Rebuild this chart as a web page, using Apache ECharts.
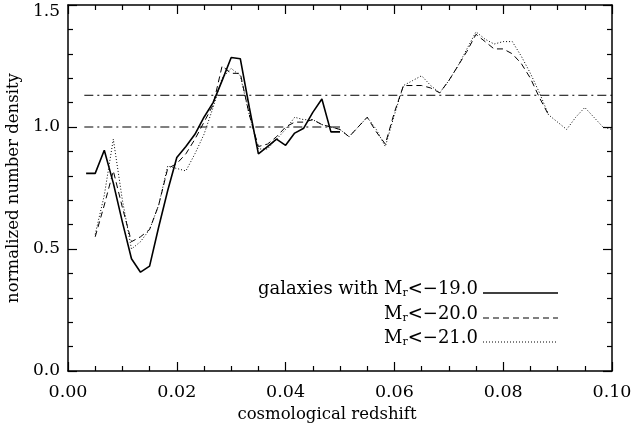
<!DOCTYPE html>
<html>
<head>
<meta charset="utf-8">
<script src="https://cdn.jsdelivr.net/npm/echarts@6/dist/echarts.min.js"></script>
<style>html,body{margin:0;padding:0;background:#fff;}#c{width:633px;height:427px;}</style>
</head>
<body>
<div id="c"></div>
<script>
// redshift bins (shared)
const redshift = [0.00333,0.005,0.00667,0.00833,0.01,0.01167,0.01333,0.015,0.01667,0.01833,
  0.02,0.02167,0.02333,0.025,0.02667,0.02833,0.03,0.03167,0.03333,0.035,
  0.03667,0.03833,0.04,0.04167,0.04333,0.045,0.04667,0.04833,0.05,0.05167,
  0.05333,0.055,0.05667,0.05833,0.06,0.06167,0.06333,0.065,0.06667,0.06833,
  0.07,0.07167,0.07333,0.075,0.07667,0.07833,0.08,0.08167,0.08333,0.085,
  0.08667,0.08833,0.09,0.09167,0.09333,0.095,0.09667,0.09833,0.1];
// M_r < -19.0 (solid), bins 0..28
const density19 = [0.81,0.81,0.905,0.77,0.61,0.46,0.405,0.43,0.59,0.74,
  0.875,0.92,0.97,1.04,1.10,1.19,1.285,1.28,1.08,0.89,
  0.92,0.95,0.925,0.975,0.995,1.06,1.115,0.98,0.98];
// M_r < -20.0 (dashed), bins 1..51
const density20 = [0.55,0.68,0.82,0.67,0.53,0.55,0.58,0.68,0.83,
  0.85,0.89,0.95,1.02,1.09,1.25,1.22,1.22,1.05,0.92,
  0.93,0.96,1.0,1.02,1.02,1.03,1.01,1.0,0.99,0.96,
  1.0,1.04,0.98,0.93,1.06,1.17,1.17,1.17,1.16,1.14,
  1.19,1.25,1.31,1.38,1.35,1.32,1.32,1.30,1.26,1.20,
  1.12,1.05];
// M_r < -21.0 (dotted), bins 1..58
const density21 = [0.56,0.72,0.95,0.70,0.50,0.53,0.58,0.68,0.84,
  0.83,0.82,0.89,0.97,1.08,1.20,1.24,1.21,1.05,0.91,
  0.91,0.95,0.99,1.04,1.03,1.03,1.01,1.0,0.99,0.96,
  1.0,1.04,0.99,0.92,1.05,1.17,1.19,1.21,1.17,1.14,
  1.19,1.25,1.32,1.39,1.36,1.34,1.35,1.35,1.29,1.22,
  1.14,1.05,1.02,0.99,1.04,1.08,1.04,1.0,0.99];
// reference levels
const refLow = {z: [0.003, 0.05], n: 1.0};
const refHigh = {z: [0.003, 0.1], n: 1.13};
const legendLabels = ['galaxies with ', '<\u221219.0', '<\u221220.0', '<\u221221.0'];

function pairs(zs, ns, offset) {
  return ns.map((n, i) => [zs[i + offset], n]);
}

const FONT = 'DejaVu Serif';
const chart = echarts.init(document.getElementById('c'), null, {renderer: 'canvas'});
const axisLine = {show: true, onZero: false, lineStyle: {color: '#000', width: 1.5}};
const xBase = {type: 'value', min: 0, max: 0.1, interval: 0.02,
  axisLine: axisLine, splitLine: {show: false},
  axisTick: {inside: true, length: 9, lineStyle: {color: '#000', width: 1.2}},
  minorTick: {show: true, splitNumber: 4, length: 5, lineStyle: {color: '#000', width: 1.2}}};
const yBase = {type: 'value', min: 0, max: 1.5, interval: 0.5,
  axisLine: axisLine, splitLine: {show: false},
  axisTick: {inside: true, length: 9, lineStyle: {color: '#000', width: 1.2}},
  minorTick: {show: true, splitNumber: 5, length: 5, lineStyle: {color: '#000', width: 1.2}}};

const legendRows = [
  {y: 293, type: 'solid', width: 1.6, prefix: true, label: legendLabels[1]},
  {y: 318, type: [6, 4], width: 1, prefix: false, label: legendLabels[2]},
  {y: 342, type: [1, 2], width: 1, prefix: false, label: legendLabels[3]}
];
const graphics = [];
legendRows.forEach(r => {
  graphics.push({type: 'text', right: 633 - 478, top: r.y - 13,
    style: {text: (r.prefix ? '{a|' + legendLabels[0] + '}' : '') + '{a|M}{s|r}{a|' + r.label + '}',
      rich: {a: {fontFamily: FONT, fontSize: 18, fill: '#000'},
             s: {fontFamily: FONT, fontSize: 11, fill: '#000', verticalAlign: 'bottom', padding: [9, 0, 0, 0]}}}});
  graphics.push({type: 'line', shape: {x1: 483, y1: r.y, x2: 558, y2: r.y},
    style: {stroke: '#000', lineWidth: r.width, lineDash: r.type === 'solid' ? null : r.type}});
});

const lineSeries = (data, type, width) => ({type: 'line', data: data, showSymbol: false, symbol: 'none',
  lineStyle: {color: '#000', width: width, type: type}, silent: true, animation: false});

chart.setOption({
  animation: false,
  backgroundColor: '#fff',
  grid: {left: 68, right: 21, top: 5, bottom: 56, containLabel: false, outerBoundsMode: 'none'},
  xAxis: [
    Object.assign({}, xBase, {position: 'bottom', name: 'cosmological redshift', nameLocation: 'middle', nameGap: 33,
      nameTextStyle: {fontFamily: FONT, fontSize: 16.5, color: '#000', padding: [0, 26, 0, 0]},
      axisLabel: {fontFamily: FONT, fontSize: 17.5, color: '#000', margin: 12, formatter: v => v.toFixed(2)}}),
    Object.assign({}, xBase, {position: 'top', axisLabel: {show: false}})
  ],
  yAxis: [
    Object.assign({}, yBase, {position: 'left', name: 'normalized number density', nameLocation: 'middle', nameGap: 44,
      nameTextStyle: {fontFamily: FONT, fontSize: 16.5, color: '#000'},
      axisLabel: {fontFamily: FONT, fontSize: 17, color: '#000', margin: 8,
        formatter: v => (v === 1.5 ? '{t|' + v.toFixed(1) + '}' : v.toFixed(1)),
        rich: {t: {fontFamily: FONT, fontSize: 17, color: '#000', padding: [14, 0, 0, 0]}}}}),
    Object.assign({}, yBase, {position: 'right', axisLabel: {show: false}})
  ],
  series: [
    lineSeries(refHigh.z.map(z => [z, refHigh.n]), [9, 4, 2, 4], 1),
    lineSeries(refLow.z.map(z => [z, refLow.n]), [9, 4, 2, 4], 1),
    lineSeries(pairs(redshift, density21, 1), [1, 2], 1),
    lineSeries(pairs(redshift, density20, 1), [6, 4], 1),
    lineSeries(pairs(redshift, density19, 0), 'solid', 1.6)
  ],
  graphic: graphics
});
</script>
</body>
</html>
